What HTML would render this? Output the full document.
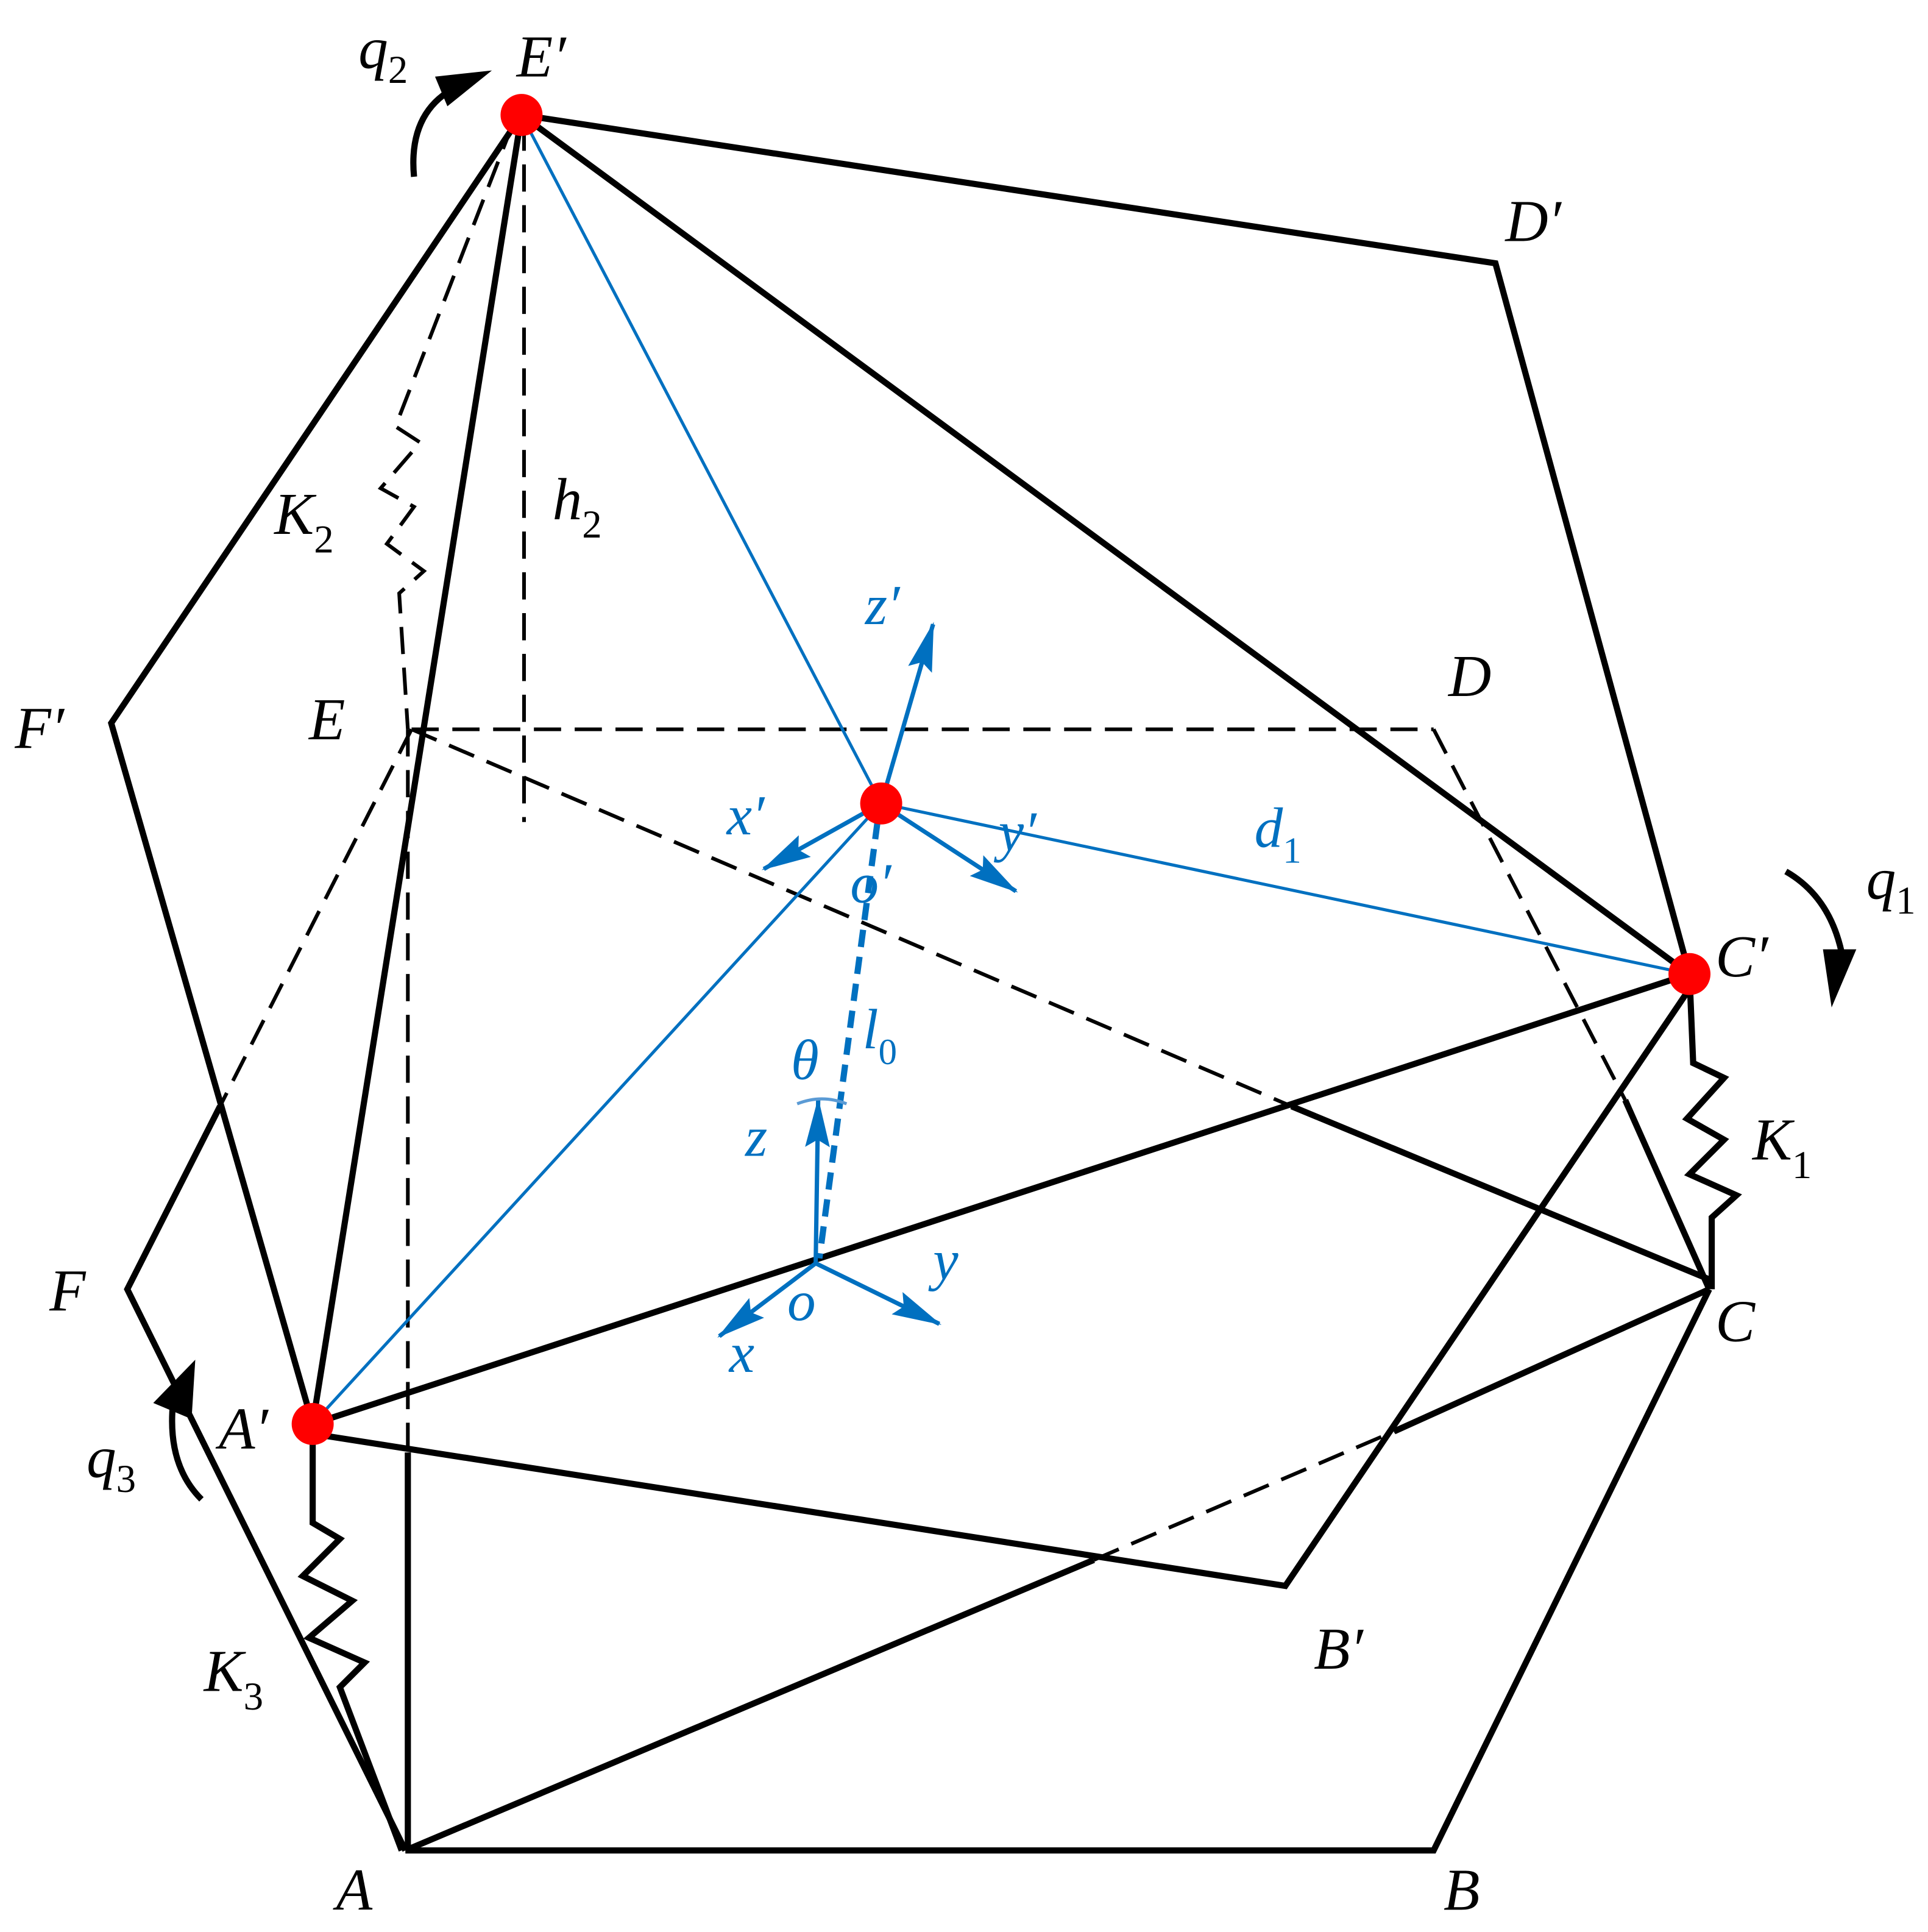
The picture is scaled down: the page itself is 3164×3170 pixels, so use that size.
<!DOCTYPE html>
<html><head><meta charset="utf-8"><style>html,body{margin:0;padding:0;background:#fff}svg{display:block}</style></head>
<body>
<svg width="3164" height="3170" viewBox="0 0 1560 1563" preserveAspectRatio="none" xmlns="http://www.w3.org/2000/svg">
<defs>
<marker id="ab" viewBox="0 0 40 20" refX="38" refY="10" markerWidth="40" markerHeight="20" markerUnits="userSpaceOnUse" orient="auto"><path d="M0,0L40,10L0,20L6,10z" fill="#0070c0"/></marker>
</defs>
<g fill="none" stroke="#000" stroke-linejoin="miter">
<g stroke-width="3" stroke-dasharray="22,11">
<line x1="333" y1="590" x2="1160" y2="590"/>
<line x1="333" y1="590" x2="178" y2="895"/>
<line x1="1160" y1="590" x2="1315" y2="890"/>
<line x1="333" y1="590" x2="1045" y2="895"/>
<line x1="424" y1="100" x2="424" y2="665"/>
<line x1="330" y1="590" x2="330" y2="1175"/>
<line x1="885" y1="1262" x2="1128" y2="1158"/>
<polyline points="415,100 320,345 340,358 308,395 335,410 313,440 343,462 323,480 330,590"/>
</g>
<g stroke-width="5">
<polyline points="422,93 1210,213 1367,788"/>
<line x1="422" y1="93" x2="1367" y2="788"/>
<polyline points="422,93 90,585 253,1152"/>
<line x1="422" y1="93" x2="253" y2="1152"/>
<line x1="253" y1="1152" x2="1367" y2="788"/>
<polyline points="253,1160 1040,1283 1367,800"/>
<polyline points="328,1497 1160,1497 1383,1043"/>
<line x1="328" y1="1497" x2="885" y2="1262"/>
<line x1="1128" y1="1158" x2="1383" y2="1043"/>
<line x1="330" y1="1497" x2="330" y2="1175"/>
<polyline points="178,895 103,1043 328,1497"/>
<line x1="1315" y1="890" x2="1383" y2="1043"/>
<line x1="1045" y1="895" x2="1383" y2="1035"/>
<polyline points="1367,788 1370,860 1395,872 1365,905 1395,922 1367,950 1405,967 1385,985 1385,1043"/>
<polyline points="253,1152 253,1232 275,1245 245,1275 285,1295 250,1325 295,1345 275,1365 325,1497"/>
<path d="M335,143 Q330,90 370,70"/>
<path d="M1445,705 Q1480,725 1490,770"/>
<path d="M163,1213 Q135,1185 140,1135"/>
</g>
<path d="M352,62 L398,57 L362,86 Z" fill="#000" stroke="none"/>
<path d="M1475,768 L1502,768 L1482,815 Z" fill="#000" stroke="none"/>
<path d="M124,1135 L158,1100 L155,1148 Z" fill="#000" stroke="none"/>
</g>
<g stroke="#0070c0" fill="none" stroke-width="2.5">
<line x1="422" y1="93" x2="713" y2="650"/>
<line x1="713" y1="650" x2="253" y2="1152"/>
<line x1="713" y1="650" x2="1367" y2="788"/>
<g stroke-width="3.5">
<line x1="713" y1="650" x2="755" y2="505" marker-end="url(#ab)"/>
<line x1="713" y1="650" x2="618" y2="703" marker-end="url(#ab)"/>
<line x1="713" y1="650" x2="822" y2="721" marker-end="url(#ab)"/>
<line x1="660" y1="1022" x2="662" y2="890" marker-end="url(#ab)"/>
<line x1="660" y1="1022" x2="582" y2="1081" marker-end="url(#ab)"/>
<line x1="660" y1="1022" x2="760" y2="1071" marker-end="url(#ab)"/>
<line x1="710" y1="665" x2="663" y2="1018" stroke-width="5" stroke-dasharray="14,8"/>
</g>
<path d="M645,893 Q665,885 685,893" stroke="#5b9bd5" stroke-width="2.5"/>
</g>
<g fill="#ff0000">
<circle cx="422" cy="93" r="17"/><circle cx="713" cy="650" r="17"/>
<circle cx="1367" cy="788" r="17"/><circle cx="253" cy="1152" r="17"/>
</g>
<g font-family="'Liberation Serif', serif" font-style="italic" font-size="48" fill="#000">
<text x="418" y="62">E′</text>
<text x="1218" y="195">D′</text>
<text x="1388" y="790">C′</text>
<text x="1388" y="1085">C</text>
<text x="1168" y="1545">B</text>
<text x="272" y="1545">A</text>
<text x="40" y="1060">F</text>
<text x="12" y="605">F′</text>
<text x="250" y="598">E</text>
<text x="1172" y="563">D</text>
<text x="177" y="1172">A′</text>
<text x="1063" y="1350">B′</text>
<text x="222" y="432">K<tspan font-size="32" font-style="normal" dy="15">2</tspan></text>
<text x="447" y="420">h<tspan font-size="32" font-style="normal" dy="15">2</tspan></text>
<text x="1418" y="938">K<tspan font-size="32" font-style="normal" dy="15">1</tspan></text>
<text x="165" y="1368">K<tspan font-size="32" font-style="normal" dy="15">3</tspan></text>
<text x="290" y="55">q<tspan font-size="32" font-style="normal" dy="12">2</tspan></text>
<text x="1510" y="727">q<tspan font-size="32" font-style="normal" dy="12">1</tspan></text>
<text x="70" y="1195">q<tspan font-size="32" font-style="normal" dy="12">3</tspan></text>
</g>
<g font-family="'Liberation Serif', serif" font-style="italic" font-size="46" fill="#0070c0">
<text x="700" y="505">z′</text>
<text x="588" y="675">x′</text>
<text x="808" y="688">y′</text>
<text x="688" y="730">o′</text>
<text x="1015" y="685">d<tspan font-size="30" font-style="normal" dy="13">1</tspan></text>
<text x="698" y="848">l<tspan font-size="30" font-style="normal" dy="13">0</tspan></text>
<text x="640" y="873">θ</text>
<text x="603" y="935">z</text>
<text x="637" y="1068">o</text>
<text x="590" y="1110">x</text>
<text x="755" y="1035">y</text>
</g>
</svg>
</body></html>
